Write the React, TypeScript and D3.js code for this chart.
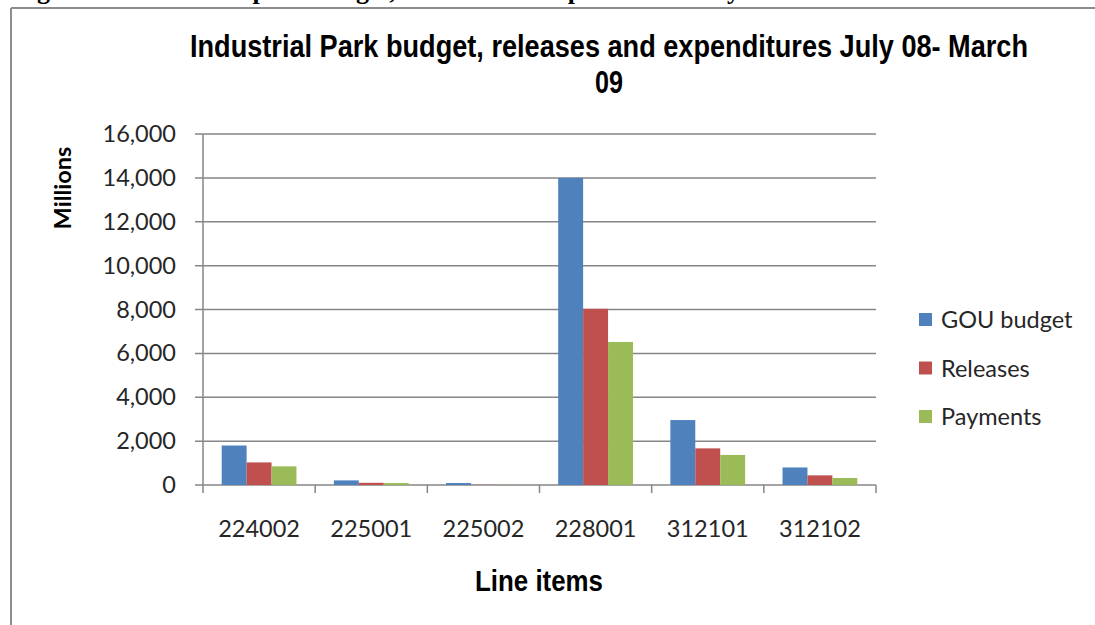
import React from "react";
import * as d3 from "d3";

const categories = ["224002", "225001", "225002", "228001", "312101", "312102"];
const seriesNames = ["GOU budget", "Releases", "Payments"];
const gouBudget = [1800, 210, 90, 14000, 2960, 800];
const releases = [1030, 100, 5, 8030, 1670, 440];
const payments = [850, 90, 5, 6520, 1370, 320];
const yTicks = [0, 2000, 4000, 6000, 8000, 10000, 12000, 14000, 16000];
const colors = ["#4F81BD", "#C0504D", "#9BBB59"];

const W = 1095;
const H = 625;
const plot = { left: 203, right: 876, top: 134, bottom: 485 };

export default function App() {
  const series = [gouBudget, releases, payments];
  const x = d3.scaleBand<string>().domain(categories).range([plot.left, plot.right]).paddingInner(0).paddingOuter(0);
  // Excel gap width 150%: group = 3 bars, gap = 1.5 bars
  const bw = x.bandwidth() / 4.5;
  const y = d3.scaleLinear().domain([0, 16000]).range([plot.bottom, plot.top]);
  const fmt = d3.format(",");
  const labelFont = "Lato, 'Open Sans', sans-serif";
  const narrow = "'Liberation Sans Narrow', 'Arial Narrow', 'Liberation Sans', Arial, sans-serif";
  const bounds = [...categories.map((c) => x(c) as number), plot.right];

  return (
    <svg width={W} height={H} style={{ position: "absolute", left: 0, top: 0, display: "block", background: "#fff" }}>
      <rect x={0} y={0} width={W} height={H} fill="#fff" />
      {/* cut-off document heading */}
      <text x={14} y={-1} fontFamily="'Liberation Serif', 'Times New Roman', serif" fontWeight="bold" fontSize={26} fill="#000">
        Figure 12: Industrial park budget, releases and expenditures July 08 - March 09
      </text>
      {/* frame */}
      <line x1={11} x2={W} y1={8} y2={8} stroke="#8c8c8c" strokeWidth={2} />
      <line x1={11} x2={11} y1={8} y2={H} stroke="#8c8c8c" strokeWidth={2} />

      {/* title */}
      <text x={609} y={57} textAnchor="middle" fontFamily={narrow} fontWeight="bold" fontSize={31} fill="#000"
        textLength={838} lengthAdjust="spacingAndGlyphs">
        Industrial Park budget, releases  and expenditures July 08- March
      </text>
      <text x={609} y={93} textAnchor="middle" fontFamily={narrow} fontWeight="bold" fontSize={31} fill="#000"
        textLength={28} lengthAdjust="spacingAndGlyphs">
        09
      </text>

      {/* gridlines */}
      {yTicks.map((t) => (
        <g key={t}>
          <line x1={plot.left - 8} x2={plot.right} y1={y(t)} y2={y(t)} stroke="#868686" strokeWidth={1.5} />
          <text x={176} y={y(t) + 8} textAnchor="end" fontFamily={labelFont} fontSize={23.5} fill="#262626">
            {fmt(t)}
          </text>
        </g>
      ))}
      <line x1={plot.left} x2={plot.left} y1={plot.top} y2={plot.bottom} stroke="#868686" strokeWidth={1.5} />
      {bounds.map((b, i) => (
        <line key={i} x1={b} x2={b} y1={plot.bottom} y2={plot.bottom + 8} stroke="#868686" strokeWidth={1.5} />
      ))}

      {/* bars */}
      {series.map((vals, si) =>
        vals.map((v, ci) => {
          const x0 = (x(categories[ci]) as number) + bw * 0.75 + si * bw;
          return (
            <rect key={`${si}-${ci}`} x={x0} y={y(v)} width={bw} height={plot.bottom - y(v)} fill={colors[si]} />
          );
        })
      )}

      {/* x labels */}
      {categories.map((c) => (
        <text key={c} x={(x(c) as number) + x.bandwidth() / 2} y={537} textAnchor="middle" fontFamily={labelFont} fontSize={23.5} fill="#262626">
          {c}
        </text>
      ))}

      {/* axis titles */}
      <text x={539} y={591} textAnchor="middle" fontFamily={narrow} fontWeight="bold" fontSize={29} fill="#000"
        textLength={128} lengthAdjust="spacingAndGlyphs">
        Line items
      </text>
      <text transform="translate(71,188) rotate(-90)" textAnchor="middle" fontFamily={labelFont} fontWeight="bold" fontSize={23.5} fill="#000">
        Millions
      </text>

      {/* legend */}
      {seriesNames.map((s, i) => (
        <g key={s} transform={`translate(919, ${320 + i * 48.5})`}>
          <rect x={0} y={-7} width={13} height={13} fill={colors[i]} />
          <text x={22} y={8} fontFamily={labelFont} fontSize={23.5} fill="#262626">
            {s}
          </text>
        </g>
      ))}
    </svg>
  );
}
